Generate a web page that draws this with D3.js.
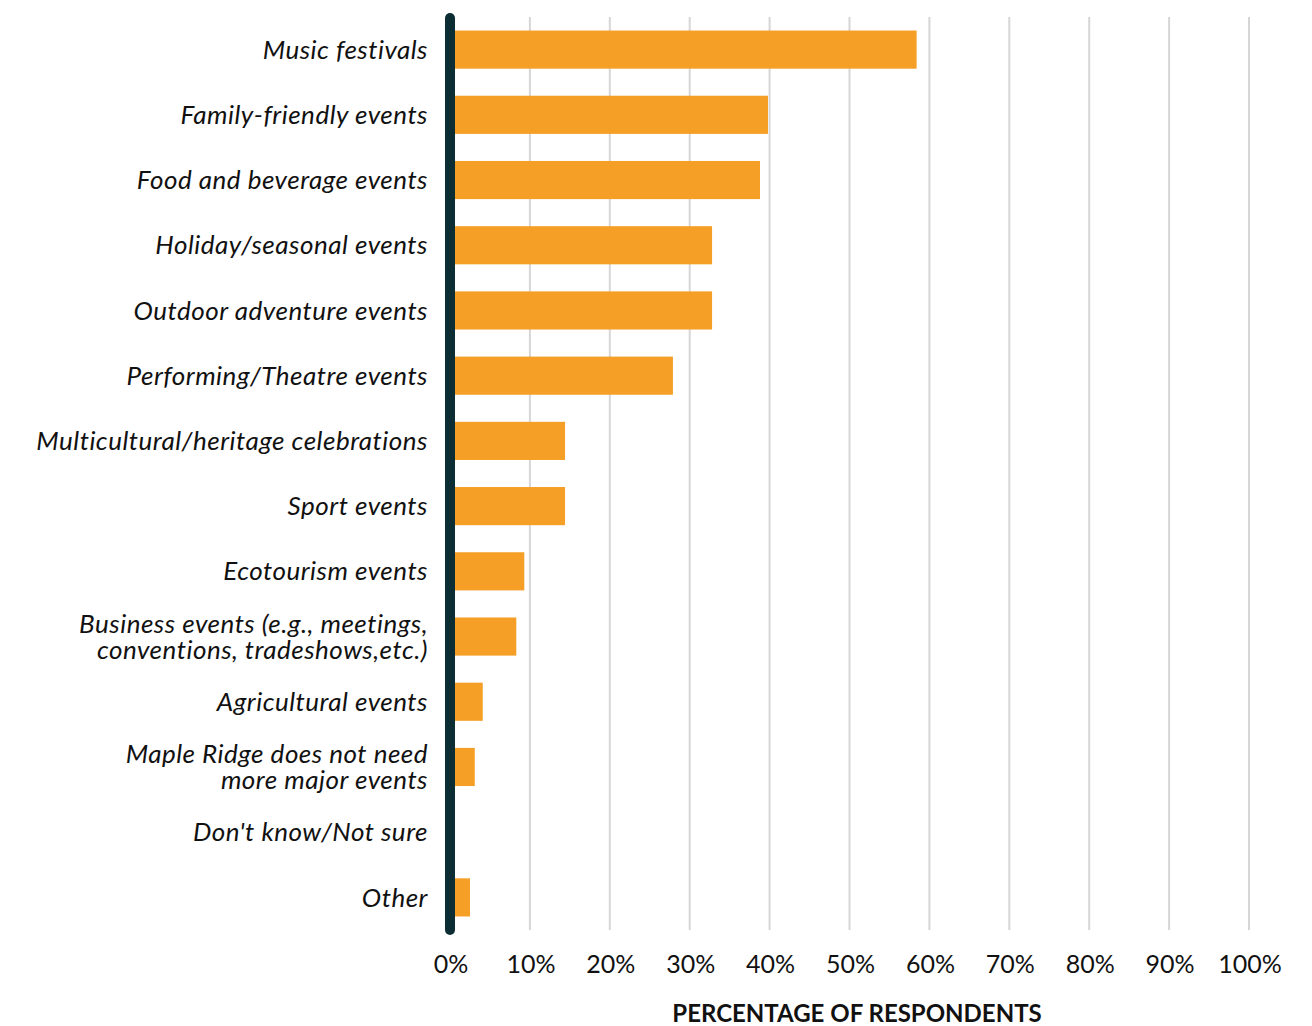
<!DOCTYPE html>
<html>
<head>
<meta charset="utf-8">
<script src="https://cdn.jsdelivr.net/npm/d3@7"></script>
<style>
  html, body { margin: 0; padding: 0; background: #fff; }
  svg { display: block; }
  text { font-family: "Source Sans Pro", Lato, "Noto Sans", sans-serif; fill: #111; font-variant-ligatures: none; }
</style>
</head>
<body>
<svg id="chart" width="1312" height="1026"></svg>
<script>
// Event types (label lines separated by "\n")
const categories = [
  "Music festivals",
  "Family-friendly events",
  "Food and beverage events",
  "Holiday/seasonal events",
  "Outdoor adventure events",
  "Performing/Theatre events",
  "Multicultural/heritage celebrations",
  "Sport events",
  "Ecotourism events",
  "Business events (e.g., meetings,\nconventions, tradeshows,etc.)",
  "Agricultural events",
  "Maple Ridge does not need\nmore major events",
  "Don't know/Not sure",
  "Other"
];
// Share of respondents (%)
const values = [58.4, 39.8, 38.8, 32.8, 32.8, 27.9, 14.4, 14.4, 9.3, 8.3, 4.1, 3.1, 0, 2.5];
const tickValues = [0, 10, 20, 30, 40, 50, 60, 70, 80, 90, 100];
const axisTitle = "PERCENTAGE OF RESPONDENTS";

const svg = d3.select("#chart");
const plotL = 450, plotR = 1249, plotT = 17, plotB = 930;

const x = d3.scaleLinear().domain([0, 100]).range([plotL, plotR]);
const y = d3.scaleBand().domain(categories).range([plotT, plotB])
  .paddingInner(0.415).paddingOuter(0.2075);

// vertical gridlines
svg.append("g").selectAll("line").data(tickValues.slice(1)).join("line")
  .attr("x1", d => x(d)).attr("x2", d => x(d))
  .attr("y1", plotT).attr("y2", plotB)
  .attr("stroke", "#d6d6d6").attr("stroke-width", 2);

// bars
svg.append("g").selectAll("rect").data(categories).join("rect")
  .attr("x", x(0))
  .attr("y", d => y(d))
  .attr("width", (d, i) => x(values[i]) - x(0))
  .attr("height", y.bandwidth())
  .attr("fill", "#f59f27");

// baseline at 0%
svg.append("line")
  .attr("x1", x(0)).attr("x2", x(0))
  .attr("y1", 18).attr("y2", 930)
  .attr("stroke", "#0b2d33").attr("stroke-width", 10)
  .attr("stroke-linecap", "round");

// category labels
const labels = svg.append("g").selectAll("text").data(categories).join("text")
  .attr("text-anchor", "end")
  .attr("font-size", 26)
  .attr("letter-spacing", 0.5)
  .attr("font-style", "italic")
  .attr("transform", d => `translate(428,${y(d) + y.bandwidth() / 2})`);
labels.each(function(d) {
  const lines = d.split("\n");
  const lh = 26;
  const t = d3.select(this);
  lines.forEach((ln, k) => {
    t.append("tspan").attr("x", 0)
      .attr("y", (k - (lines.length - 1) / 2) * lh)
      .attr("dy", "0.35em")
      .text(ln);
  });
});

// x axis tick labels
svg.append("g").selectAll("text").data(tickValues).join("text")
  .attr("x", d => x(d) + 1)
  .attr("y", 973)
  .attr("text-anchor", "middle")
  .attr("font-size", 25)
  .text(d => d + "%");

// axis title
svg.append("text")
  .attr("x", 857).attr("y", 1022)
  .attr("text-anchor", "middle")
  .attr("font-size", 24)
  .attr("font-weight", "bold")
  .text(axisTitle);
</script>
</body>
</html>
